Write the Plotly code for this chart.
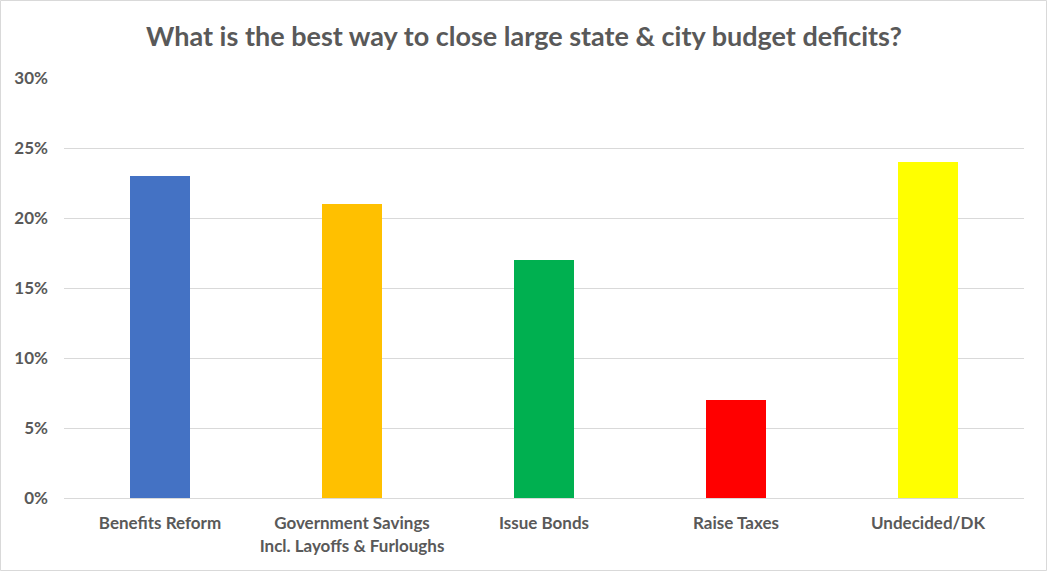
import plotly.graph_objects as go

categories = ["Benefits Reform", "Government Savings<br>Incl. Layoffs & Furloughs", "Issue Bonds", "Raise Taxes", "Undecided/DK"]
values = [0.23, 0.21, 0.17, 0.07, 0.24]
colors = ["#4472C4", "#FFC000", "#00B050", "#FF0000", "#FFFF00"]
tick_vals = [0, 0.05, 0.10, 0.15, 0.20, 0.25, 0.30]
tick_text = ["0%", "5%", "10%", "15%", "20%", "25%", "30%"]

W, H = 1048, 572
ml, mr, mt, mb = 64, 24, 78, 74
pw, ph = W - ml - mr, H - mt - mb

fig = go.Figure(go.Bar(x=categories, y=values, marker=dict(color=colors, line=dict(width=0)), width=0.3125))

font_family = "Lato, 'Open Sans', sans-serif"
fig.update_layout(
    width=W, height=H,
    margin=dict(l=ml, r=mr, t=mt, b=mb),
    paper_bgcolor="white", plot_bgcolor="white",
    showlegend=False,
    title=dict(text="<b>What is the best way to close large state &amp; city budget deficits?</b>",
               x=0.5, xanchor="center", y=1 - 37 / H, yanchor="middle",
               font=dict(family=font_family, size=27, color="#595959")),
    font=dict(family=font_family, color="#595959"),
    xaxis=dict(showgrid=False, showline=True, linecolor="#D9D9D9", linewidth=1,
               tickfont=dict(size=17, color="#595959"), ticks="", range=[-0.5, 4.5],
               ticklabelstandoff=10, tickprefix="<b>", ticksuffix="</b>"),
    yaxis=dict(range=[0, 0.30], tickvals=tick_vals, ticktext=["<b>" + t + "</b>" for t in tick_text],
               showgrid=True, gridcolor="#D9D9D9", gridwidth=1, zeroline=False, showline=False,
               tickfont=dict(size=17, color="#595959"), ticks="", ticklabelstandoff=15),
    bargap=0.6875,
)

fig.add_shape(type="rect", xref="paper", yref="paper",
              x0=-(ml - 0.5) / pw, x1=1 + (mr - 1.5) / pw,
              y0=-(mb - 1.5) / ph, y1=1 + (mt - 0.5) / ph,
              line=dict(color="#D9D9D9", width=1), fillcolor="rgba(0,0,0,0)", layer="below")

fig.write_html("out.html")
